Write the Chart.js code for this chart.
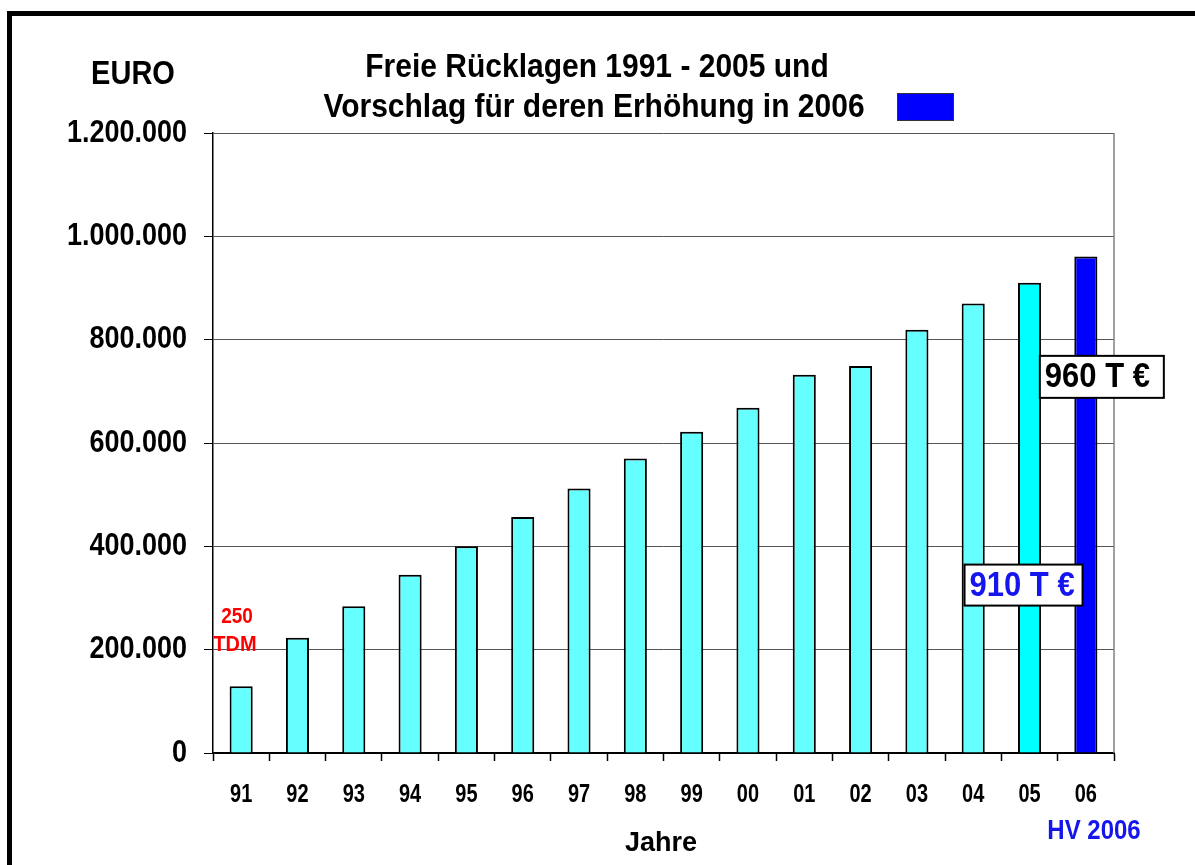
<!DOCTYPE html>
<html>
<head>
<meta charset="utf-8">
<script src="https://cdn.jsdelivr.net/npm/chart.js@4"></script>
<style>
  html, body { margin: 0; padding: 0; background: #fff; }
  #box { position: relative; width: 1195px; height: 865px; }
</style>
</head>
<body>
<div id="box"><canvas id="ruecklagenChart"></canvas></div>
<script>
// Daten: Freie Rücklagen in Euro
const jahre = ['91', '92', '93', '94', '95', '96', '97', '98', '99', '00', '01', '02', '03', '04', '05', '06'];
const ruecklagen = [129000, 223000, 284000, 345000, 400000, 457000, 512000, 570000, 622000, 668000, 732000, 749000, 819000, 870000, 910000, 961000];
const achsenMax = 1200000;
const achsenSchritt = 200000;

const FONT = '"Liberation Sans", Arial, sans-serif';

// Tausenderpunkte wie im Original
function formatEuro(v) {
    return String(v).replace(/\B(?=(\d{3})+(?!\d))/g, '.');
}

function barFarbe(ctx) {
    if (ctx.dataIndex === 15) return '#0000ff';
    if (ctx.dataIndex === 14) return '#00ffff';
    return '#66ffff';
}

// Schrift im Original etwas höher als breit -> senkrecht strecken
function text(c, t, x, y, size, farbe, align, streck) {
    c.save();
    c.font = 'bold ' + size + 'px ' + FONT;
    c.fillStyle = farbe;
    c.textAlign = align || 'center';
    c.textBaseline = 'middle';
    c.translate(x, y);
    c.scale(1, streck || 1.12);
    c.fillText(t, 0, 0);
    c.restore();
}

// Texte, Rahmen und Beschriftungen
const extrasPlugin = {
    id: 'extras',
    afterDraw(chart) {
        const c = chart.ctx;
        const area = chart.chartArea;
        const x = chart.scales.x;
        const y = chart.scales.y;
        c.save();

        // äußerer Rahmen
        c.fillStyle = '#000';
        c.fillRect(7, 11, 1195, 5);
        c.fillRect(7, 11, 5, 865);

        // rechter Rand der Zeichenfläche
        c.strokeStyle = '#808080';
        c.lineWidth = 1.5;
        c.beginPath();
        c.moveTo(area.right, area.top);
        c.lineTo(area.right, area.bottom);
        c.stroke();

        // Achsenbeschriftungen aus den Skalen
        y.ticks.forEach((t, i) => {
            text(c, formatEuro(t.value), area.left - 26, y.getPixelForTick(i), 27, '#000', 'right', 1.15);
        });
        x.ticks.forEach((t, i) => {
            text(c, jahre[t.value], x.getPixelForTick(i), 795, 20, '#000', 'center', 1.25);
        });

        text(c, 'Freie Rücklagen 1991 - 2005 und', 597, 68, 30, '#000');
        text(c, 'Vorschlag für deren Erhöhung in 2006', 594, 108, 30, '#000');

        // Legendenkästchen
        c.fillStyle = '#0000ff';
        c.fillRect(897, 93, 56, 27);
        c.strokeStyle = '#333';
        c.lineWidth = 1;
        c.strokeRect(897.5, 93.5, 56, 27);

        text(c, 'EURO', 133, 75, 29, '#000');
        text(c, 'Jahre', 661, 843, 27, '#000', 'center', 1.05);
        text(c, 'HV 2006', 1094, 832, 24, '#1515ee');

        // 250 TDM
        text(c, '250', 237, 617, 19, '#ff0000');
        text(c, 'TDM', 235, 645, 20, '#ff0000');

        // Wertkästchen
        function wertBox(t, farbe, cx, cy, w, h) {
            c.fillStyle = '#fff';
            c.fillRect(cx - w / 2, cy - h / 2, w, h);
            c.strokeStyle = '#000';
            c.lineWidth = 2;
            c.strokeRect(cx - w / 2, cy - h / 2, w, h);
            text(c, t, cx - w / 2 + 5, cy + 1, 31, farbe, 'left');
        }
        const x05 = x.getPixelForValue(14);
        const x06 = x.getPixelForValue(15);
        wertBox('910 T €', '#1515ee', x05 - 6, y.getPixelForValue(325000), 118, 41);
        wertBox('960 T €', '#000', x06 + 16, y.getPixelForValue(728000), 124, 42);

        c.restore();
    }
};

new Chart(document.getElementById('ruecklagenChart'), {
    type: 'bar',
    data: {
        labels: jahre,
        datasets: [{
            data: ruecklagen,
            backgroundColor: barFarbe,
            borderColor: '#000',
            borderWidth: 2,
            barPercentage: 0.41,
            categoryPercentage: 1.0
        }]
    },
    options: {
        responsive: true,
        maintainAspectRatio: false,
        animation: false,
        events: [],
        layout: { padding: { top: 133, right: 81, left: 0, bottom: 0 } },
        plugins: {
            legend: { display: false },
            title: { display: false },
            tooltip: { enabled: false }
        },
        scales: {
            x: {
                afterFit(scale) { scale.height = 112; },
                grid: {
                    offset: true,
                    drawOnChartArea: false,
                    drawTicks: true,
                    tickLength: 8,
                    tickColor: '#000',
                    tickWidth: 1.5
                },
                border: { color: '#000', width: 2 },
                ticks: { display: false }
            },
            y: {
                min: 0,
                max: achsenMax,
                afterFit(scale) { scale.width = 213; },
                grid: {
                    color: '#555',
                    lineWidth: 1,
                    drawTicks: true,
                    tickLength: 9,
                    tickColor: '#000'
                },
                border: { color: '#000', width: 1.5 },
                ticks: { stepSize: achsenSchritt, display: false }
            }
        }
    },
    plugins: [extrasPlugin]
});
</script>
</body>
</html>
